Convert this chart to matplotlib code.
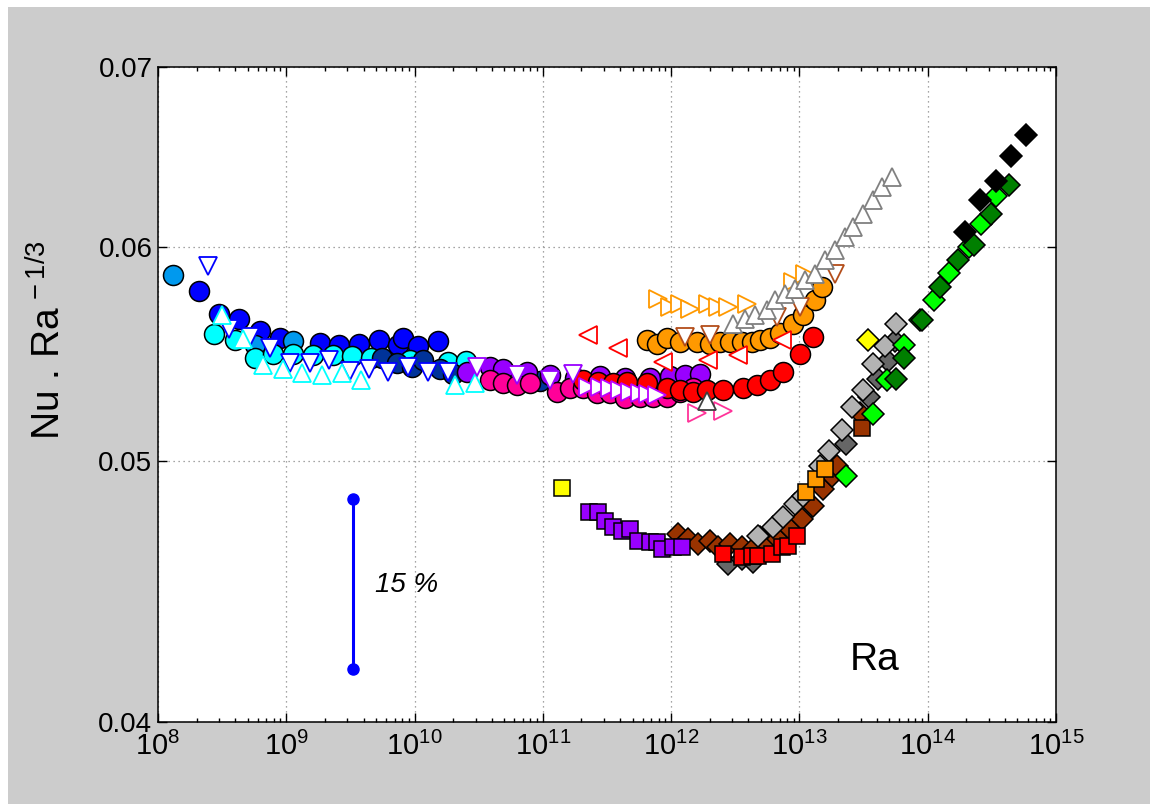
import matplotlib
matplotlib.use("Agg")
import matplotlib.pyplot as plt
from matplotlib.patches import Rectangle
from matplotlib.ticker import NullLocator, NullFormatter, FixedLocator, FixedFormatter

plt.rcParams['font.family'] = ['Liberation Sans', 'DejaVu Sans']
plt.rcParams['mathtext.fontset'] = 'custom'
plt.rcParams['mathtext.rm'] = 'Liberation Sans'
plt.rcParams['mathtext.it'] = 'Liberation Sans:italic'

# ---- data (Ra, Nu.Ra^-1/3) ----
lightblue_ra = [1.3e8, 5.7e8, 1.13e9]
lightblue_nu = [0.0586, 0.0552, 0.0554]

blue_ra = [2.1e8, 2.99e8, 4.3e8, 6.24e8, 8.93e8, 1.83e9, 2.59e9, 3.69e9, 5.28e9, 7.46e9, 8.16e9, 1.07e10, 1.53e10]
blue_nu = [0.05779, 0.05670, 0.05643, 0.05587, 0.05551, 0.05530, 0.05518, 0.05527, 0.05543, 0.05522, 0.05551, 0.05515, 0.05540]

cyan_ra = [2.73e8, 3.98e8, 5.7e8, 7.92e8, 1.13e9, 1.62e9, 2.3e9, 3.24e9, 4.55e9, 9.2e9, 1.83e10, 2.51e10]
cyan_nu = [0.05570, 0.05543, 0.05457, 0.05480, 0.05480, 0.05472, 0.05472, 0.05468, 0.05457, 0.05449, 0.05441, 0.05444]

navy_ra = [5.54e9, 7.25e9, 9.49e9, 1.17e10, 1.58e10, 2.0e10, 9.5e10]
navy_nu = [0.05457, 0.05434, 0.05418, 0.05449, 0.05410, 0.05387, 0.05353]

bluetri_ra = [2.47e8, 3.6e8, 5.21e8, 7.46e8, 1.07e9, 1.53e9, 2.16e9, 3.14e9, 4.44e9, 6.24e9, 8.93e9, 1.28e10, 1.83e10]
bluetri_nu = [0.05908, 0.05598, 0.05559, 0.05504, 0.05436, 0.05434, 0.05449, 0.05400, 0.05406, 0.05395, 0.05418, 0.05395, 0.05395]

cyantri_ra = [3.14e8, 4.57e8, 6.62e8, 9.48e8, 1.33e9, 1.89e9, 2.7e9, 3.8e9, 2.07e10, 2.96e10]
cyantri_nu = [0.05662, 0.05548, 0.05425, 0.05410, 0.05390, 0.05380, 0.05390, 0.05357, 0.05335, 0.05343]

purple_ra = [2.55e10, 3.87e10, 4.91e10, 7.48e10, 1.14e11, 1.78e11, 2.79e11, 4.37e11, 6.84e11, 9.78e11, 1.28e12, 1.68e12]
purple_nu = [0.05395, 0.05418, 0.05410, 0.05395, 0.05380, 0.05366, 0.05375, 0.05366, 0.05366, 0.05375, 0.05380, 0.05387]

purpletri_ra = [3.05e10, 6.25e10, 1.14e11, 1.73e11]
purpletri_nu = [0.05418, 0.05380, 0.05357, 0.05387]

pink_ra = [3.87e10, 4.91e10, 6.25e10, 7.93e10, 1.28e11, 1.63e11, 2.07e11, 2.62e11, 3.33e11, 4.37e11, 5.71e11, 7.26e11, 9.23e11, 1.17e12, 1.49e12]
pink_nu = [0.05357, 0.05342, 0.05335, 0.05342, 0.05305, 0.05320, 0.05320, 0.05297, 0.05297, 0.05275, 0.05282, 0.05282, 0.05282, 0.05305, 0.05320]

violettri_ra = [2.26e11, 2.79e11, 3.33e11, 3.99e11, 4.78e11, 5.71e11, 6.59e11, 7.71e11]
violettri_nu = [0.05324, 0.05324, 0.05320, 0.05312, 0.05305, 0.05297, 0.05294, 0.05290]

red_ra = [2.07e11, 2.69e11, 3.52e11, 4.5e11, 6.44e11, 9.23e11, 1.17e12, 1.49e12, 1.89e12, 2.55e12, 3.65e12, 4.63e12, 5.89e12, 7.48e12, 1.01e13, 1.28e13]
red_nu = [0.05357, 0.05350, 0.05342, 0.05350, 0.05342, 0.05320, 0.05312, 0.05305, 0.05312, 0.05312, 0.05320, 0.05335, 0.05357, 0.05395, 0.05480, 0.05559]

redtri_ra = [2.26e11, 3.87e11, 8.69e11, 1.95e12, 3.33e12, 7.26e12]
redtri_nu = [0.05567, 0.05504, 0.05441, 0.05449, 0.05472, 0.05543]

pinktri_ra = [1.58e12, 2.55e12]
pinktri_nu = [0.05208, 0.05218]

darktri_ra = [1.89e12]
darktri_nu = [0.05262]

orange_ra = [6.44e11, 7.71e11, 9.23e11, 1.17e12, 1.58e12, 2.0e12, 2.4e12, 2.87e12, 3.54e12, 4.24e12, 4.92e12, 5.89e12, 7.05e12, 8.95e12, 1.07e13, 1.32e13, 1.49e13]
orange_nu = [0.05543, 0.05527, 0.05551, 0.05535, 0.05535, 0.05527, 0.05535, 0.05535, 0.05535, 0.05535, 0.05543, 0.05551, 0.05575, 0.05622, 0.05662, 0.05735, 0.05800]

orangetri_ra = [7.94e11, 9.8e11, 1.17e12, 1.4e12, 1.95e12, 2.33e12, 2.79e12, 3.88e12, 8.95e12, 1.1e13]
orangetri_nu = [0.05743, 0.05702, 0.05719, 0.05694, 0.05719, 0.05702, 0.05702, 0.05719, 0.05825, 0.05867]

browntri_ra = [1.28e12, 2.0e12, 6.64e12, 1.01e13, 1.89e13]
browntri_nu = [0.05559, 0.05567, 0.05654, 0.05702, 0.05867]

graytri_ra = [3.05e12, 3.76e12, 4.5e12, 5.55e12, 6.44e12, 7.71e12, 9.23e12, 1.1e13, 1.32e13, 1.58e13, 1.89e13, 2.26e13, 2.63e13, 3.14e13, 3.76e13, 4.37e13, 5.24e13]
graytri_nu = [0.05622, 0.05646, 0.05662, 0.05686, 0.05735, 0.05768, 0.05793, 0.05833, 0.05867, 0.05934, 0.05986, 0.06054, 0.06106, 0.06176, 0.06246, 0.06317, 0.06371]

yellowsq_ra = [1.41e11]
yellowsq_nu = [0.04887]

purplesq_ra = [2.3e11, 2.7e11, 3.05e11, 3.54e11, 4.11e11, 4.78e11, 5.55e11, 6.84e11, 7.71e11, 8.43e11, 1.04e12, 1.21e12]
purplesq_nu = [0.04785, 0.04785, 0.04751, 0.04724, 0.04711, 0.04717, 0.04670, 0.04666, 0.04666, 0.04637, 0.04644, 0.04644]

brownd_ra = [1.14e12, 1.36e12, 1.63e12, 2.0e12, 2.33e12, 2.87e12, 3.54e12, 4.37e12, 5.55e12, 6.84e12, 8.43e12, 1.04e13, 1.28e13, 1.53e13, 1.78e13, 1.95e13, 2.96e13]
brownd_nu = [0.04696, 0.04677, 0.04657, 0.04670, 0.04644, 0.04657, 0.04644, 0.04637, 0.04657, 0.04677, 0.04717, 0.04757, 0.04812, 0.04880, 0.04935, 0.04976, 0.05209]

redsq_ra = [2.52e12, 3.54e12, 4.24e12, 4.77e12, 6.07e12, 7.26e12, 8.18e12, 9.5e12]
redsq_nu = [0.04618, 0.04605, 0.04611, 0.04611, 0.04618, 0.04644, 0.04648, 0.04688]

darkgrayd_ra = [2.79e12, 3.54e12, 4.37e12, 4.92e12, 1.24e13, 2.3e13, 3.5e13, 4.11e13, 4.92e13, 5.55e13]
darkgrayd_nu = [0.04579, 0.04598, 0.04585, 0.04684, 0.04805, 0.05071, 0.05282, 0.05363, 0.05445, 0.05539]

lightgrayd_ra = [4.77e12, 6.25e12, 7.48e12, 9.23e12, 1.07e13, 1.45e13, 1.71e13, 2.13e13, 2.58e13, 3.14e13, 3.76e13, 4.63e13, 5.65e13]
lightgrayd_nu = [0.04690, 0.04724, 0.04764, 0.04818, 0.04852, 0.04978, 0.05042, 0.05135, 0.05237, 0.05312, 0.05431, 0.05515, 0.05618]

orangesq_ra = [1.12e13, 1.34e13, 1.58e13]
orangesq_nu = [0.04870, 0.04925, 0.04967]

brownsq_ra = [3.05e13]
brownsq_nu = [0.05142]

yellowd_ra = [3.44e13]
yellowd_nu = [0.05546]

green_ra = [2.3e13, 3.76e13, 4.79e13, 6.53e13, 8.7e13, 1.12e14, 1.47e14, 2.11e14, 2.6e14, 3.38e14]
green_nu = [0.04935, 0.05204, 0.05357, 0.05519, 0.05638, 0.05735, 0.05870, 0.06001, 0.06121, 0.06270]

dkgreen_ra = [5.65e13, 6.56e13, 8.96e13, 1.24e14, 1.73e14, 2.29e14, 3.09e14, 4.32e14]
dkgreen_nu = [0.05363, 0.05461, 0.05638, 0.05800, 0.05934, 0.06010, 0.06175, 0.06331]

black_ra = [1.95e14, 2.55e14, 3.38e14, 4.46e14, 5.83e14]
black_nu = [0.06078, 0.06250, 0.06353, 0.06488, 0.06607]

errbar_ra = [3.3e9, 3.3e9]
errbar_nu = [0.04185, 0.0484]

fig = plt.figure(figsize=(11.58, 8.06), dpi=100, facecolor='white')
fig.patches.append(Rectangle((8 / 1158, 2 / 806), 1142 / 1158, 797 / 806,
                             transform=fig.transFigure, facecolor='#cccccc',
                             edgecolor='none', zorder=-10))
ax = fig.add_axes([158 / 1158, 1 - 722 / 806, 898 / 1158, 655 / 806])
ax.set_facecolor('white')

CS, TS, SS, DS = 14.4, 13.5, 11.5, 11.0


def circ(x, y, c):
    ax.plot(x, y, 'o', ls='none', ms=CS, mfc=c, mec='black', mew=1.1)


def tri(x, y, m, c):
    ax.plot(x, y, m, ls='none', ms=TS, mfc='white', mec=c, mew=1.3)


def sq(x, y, c):
    ax.plot(x, y, 's', ls='none', ms=SS, mfc=c, mec='black', mew=1.1)


def dia(x, y, c):
    ax.plot(x, y, 'D', ls='none', ms=DS, mfc=c, mec='black', mew=1.1)


circ(blue_ra, blue_nu, '#0000ff')
circ(lightblue_ra, lightblue_nu, '#0099ee')
circ(cyan_ra, cyan_nu, '#00ffff')
circ(navy_ra, navy_nu, '#003399')
circ(purple_ra, purple_nu, '#9900ff')
circ(pink_ra, pink_nu, '#ff0099')
circ(red_ra, red_nu, '#ff0000')
circ(orange_ra, orange_nu, '#ff9900')

tri(bluetri_ra, bluetri_nu, 'v', '#0000ff')
tri(cyantri_ra, cyantri_nu, '^', '#00ffff')
tri(purpletri_ra, purpletri_nu, 'v', '#9900ff')
tri(violettri_ra, violettri_nu, '>', '#bb00ff')
tri(redtri_ra, redtri_nu, '<', '#ff0000')
tri(pinktri_ra, pinktri_nu, '>', '#ff3399')
tri(darktri_ra, darktri_nu, '^', '#404040')
tri(orangetri_ra, orangetri_nu, '>', '#ff9900')
tri(browntri_ra, browntri_nu, 'v', '#b34d1a')
tri(graytri_ra, graytri_nu, '^', '#808080')

dia(darkgrayd_ra, darkgrayd_nu, '#666666')
dia(brownd_ra, brownd_nu, '#993300')
dia(lightgrayd_ra, lightgrayd_nu, '#b3b3b3')
sq(purplesq_ra, purplesq_nu, '#9900ff')
sq(redsq_ra, redsq_nu, '#ff0000')
sq(orangesq_ra, orangesq_nu, '#ff9900')
sq(brownsq_ra, brownsq_nu, '#993300')
sq(yellowsq_ra, yellowsq_nu, '#ffff00')
dia(yellowd_ra, yellowd_nu, '#ffff00')
dia(green_ra, green_nu, '#00ff00')
dia(dkgreen_ra, dkgreen_nu, '#007f00')
dia(black_ra, black_nu, '#000000')

# 15 % bar
ax.plot(errbar_ra, errbar_nu, '-o', color='#0000ff', lw=2.2, ms=8, mec='#0000ff')
ax.text(4.9e9, 0.04497, '15 %', fontsize=20, style='italic', ha='left', va='center')
ax.text(2.48e13, 0.04218, 'Ra', fontsize=28, ha='left', va='center')

ax.set_xscale('log')
ax.set_yscale('log')
ax.set_xlim(1e8, 1e15)
ax.set_ylim(0.04, 0.07)
ax.yaxis.set_major_locator(FixedLocator([0.04, 0.05, 0.06, 0.07]))
ax.yaxis.set_major_formatter(FixedFormatter(['0.04', '0.05', '0.06', '0.07']))
ax.yaxis.set_minor_locator(NullLocator())
ax.xaxis.set_minor_formatter(NullFormatter())

ax.grid(True, which='major', linestyle=(0, (1, 3)), color='#888888', lw=0.9)
ax.set_axisbelow(True)
ax.tick_params(which='both', direction='in', top=True, right=True, width=1)
ax.tick_params(which='major', length=6.5)
ax.tick_params(which='minor', length=3)
ax.tick_params(axis='x', labelsize=21, pad=7)
ax.tick_params(axis='y', labelsize=20, pad=4)
for s in ax.spines.values():
    s.set_linewidth(1.1)

fig.text(49 / 1158, 1 - 340 / 806, r'Nu . Ra$^{\,-1/3}$', rotation=90,
         fontsize=28, ha='center', va='center')

fig.savefig('out.png', dpi=100, facecolor=fig.get_facecolor())
